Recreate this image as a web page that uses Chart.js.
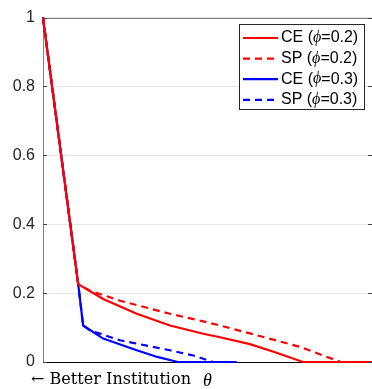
<!DOCTYPE html>
<html>
<head>
<meta charset="utf-8">
<script src="https://cdn.jsdelivr.net/npm/chart.js@4.4.0/dist/chart.umd.min.js"></script>
<style>
  html, body { margin: 0; padding: 0; background: #fff; }
  #wrap { width: 372px; height: 389px; }
</style>
</head>
<body>
<div id="wrap"><canvas id="chart" width="372" height="389"></canvas></div>
<script>
// values (x has no units, 0..1 across the plot)
const redCeX = [0, 0.107, 0.183, 0.285, 0.386, 0.487, 0.538, 0.629, 0.710, 0.790, 1.0];
const redCeY = [1, 0.226, 0.183, 0.140, 0.106, 0.082, 0.072, 0.052, 0.027, 0, 0];

const redSpX = [0, 0.107, 0.143, 0.234, 0.386, 0.487, 0.538, 0.629, 0.781, 0.905];
const redSpY = [1, 0.226, 0.207, 0.178, 0.140, 0.118, 0.106, 0.083, 0.044, 0];

const blueCeX = [0, 0.107, 0.122, 0.183, 0.285, 0.350, 0.410, 0.589];
const blueCeY = [1, 0.226, 0.106, 0.068, 0.034, 0.014, 0, 0];

const blueSpX = [0, 0.107, 0.122, 0.143, 0.234, 0.386, 0.460, 0.517];
const blueSpY = [1, 0.226, 0.106, 0.092, 0.063, 0.034, 0.018, 0];

const yTicks = [0, 0.2, 0.4, 0.6, 0.8, 1];
const legendLabels = [['CE (', '=0.2)'], ['SP (', '=0.2)'], ['CE (', '=0.3)'], ['SP (', '=0.3)']];
const xLabel = '\u2190 Better Institution';
const xSymbol = '\u03b8';

const RED = '#ff0000', BLUE = '#0000ff';

function pts(xs, ys) {
  return xs.map((x, i) => ({ x: x, y: ys[i] }));
}

function series(label, xs, ys, color, dash) {
  return {
    label: label,
    data: pts(xs, ys),
    borderColor: color,
    borderWidth: 2.2,
    borderDash: dash,
    pointRadius: 0,
    tension: 0,
    fill: false,
    clip: false
  };
}

// draws box edges, ticks, legend and x label
const decor = {
  id: 'decor',
  afterDatasetsDraw(chart) {
    const ctx = chart.ctx;
    const a = chart.chartArea;
    const y = chart.scales.y;
    ctx.save();

    // top edge
    ctx.strokeStyle = '#808080';
    ctx.lineWidth = 1;
    ctx.beginPath();
    ctx.moveTo(a.left, Math.round(a.top) + 0.5);
    ctx.lineTo(a.right, Math.round(a.top) + 0.5);
    ctx.stroke();

    // small inward ticks on both sides
    ctx.strokeStyle = '#404040';
    yTicks.forEach(v => {
      const py = Math.round(y.getPixelForValue(v)) + 0.5;
      ctx.beginPath();
      ctx.moveTo(a.left, py); ctx.lineTo(a.left + 4, py);
      ctx.moveTo(a.right, py); ctx.lineTo(a.right - 4, py);
      ctx.stroke();
    });

    // legend
    const bx = 239.5, by = 24.5, bw = 125, bh = 85;
    ctx.fillStyle = '#fff';
    ctx.fillRect(bx, by, bw, bh);
    ctx.strokeStyle = '#262626';
    ctx.strokeRect(bx, by, bw, bh);
    const colors = [RED, RED, BLUE, BLUE];
    const dashes = [[], [7, 5], [], [7, 5]];
    const sans = '16px "Liberation Sans", Arial, sans-serif';
    ctx.textBaseline = 'middle';
    legendLabels.forEach((parts, i) => {
      const ly = 38 + i * 20.6;
      ctx.strokeStyle = colors[i];
      ctx.lineWidth = 2.2;
      ctx.setLineDash(dashes[i]);
      ctx.beginPath();
      ctx.moveTo(243, ly); ctx.lineTo(278, ly);
      ctx.stroke();
      ctx.setLineDash([]);
      ctx.fillStyle = '#000';
      let tx = 281;
      ctx.font = sans;
      ctx.fillText(parts[0], tx, ly);
      tx += ctx.measureText(parts[0]).width;
      ctx.font = 'italic 16px "Liberation Serif", serif';
      ctx.fillText('\u03d5', tx, ly);
      tx += ctx.measureText('\u03d5').width;
      ctx.font = sans;
      ctx.fillText(parts[1], tx, ly);
    });

    // x label
    ctx.fillStyle = '#000';
    ctx.textBaseline = 'alphabetic';
    ctx.font = '16px "DejaVu Serif", serif';
    const w = ctx.measureText(xLabel).width;
    ctx.save();
    ctx.translate(31, 384);
    ctx.scale(160 / w, 1);
    ctx.fillText(xLabel, 0, 0);
    ctx.restore();
    ctx.font = 'italic 18px "Liberation Serif", serif';
    ctx.fillText(xSymbol, 203, 386);
    ctx.restore();
  }
};

new Chart(document.getElementById('chart'), {
  type: 'line',
  data: {
    datasets: [
      series('CE (phi=0.2)', redCeX, redCeY, RED, []),
      series('SP (phi=0.2)', redSpX, redSpY, RED, [7, 5]),
      series('CE (phi=0.3)', blueCeX, blueCeY, BLUE, []),
      series('SP (phi=0.3)', blueSpX, blueSpY, BLUE, [7, 5])
    ]
  },
  options: {
    responsive: false,
    animation: false,
    layout: { padding: { top: 14, right: 0, left: 0, bottom: 0 } },
    plugins: { legend: { display: false }, tooltip: { enabled: false } },
    scales: {
      x: {
        type: 'linear',
        min: 0,
        max: 1,
        ticks: { display: false },
        grid: { display: false, drawTicks: false },
        border: { color: '#000', width: 1 },
        afterFit(scale) { scale.height = 27; }
      },
      y: {
        min: 0,
        max: 1,
        afterBuildTicks(scale) { scale.ticks = yTicks.map(v => ({ value: v })); },
        ticks: {
          padding: 8,
          color: '#262626',
          font: { family: '"Liberation Sans", Arial, sans-serif', size: 16 },
          callback: v => String(Number(v.toFixed(1)))
        },
        grid: { color: '#e5e5e5', drawTicks: false },
        border: { color: '#808080', width: 1 },
        afterFit(scale) { scale.width = 43; }
      }
    }
  },
  plugins: [decor]
});
</script>
</body>
</html>
